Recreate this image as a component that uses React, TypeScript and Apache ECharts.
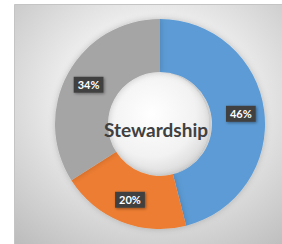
import React, { useEffect, useRef } from "react";
import * as echarts from "echarts";

const categories = ["Blue", "Orange", "Gray"];
const values = [46, 20, 34];
const colors = ["#5b9bd5", "#ed7d31", "#a5a5a5"];
const centerTitle = "Stewardship";

export default function App() {
  const ref = useRef<HTMLDivElement>(null);
  useEffect(() => {
    if (!ref.current) return;
    const chart = echarts.init(ref.current, undefined, { renderer: "svg" });
    chart.setOption({
      animation: false,
      graphic: [
        {
          type: "rect",
          z: -10,
          shape: { x: 14.5, y: 4.5, width: 280, height: 250 },
          style: {
            fill: new echarts.graphic.RadialGradient(0.5, 0.38, 0.75, [
              { offset: 0, color: "#fbfbfb" },
              { offset: 0.45, color: "#ececec" },
              { offset: 1, color: "#bdbdbd" },
            ]),
            stroke: "#c4c4c4",
            lineWidth: 1,
          },
        },
        {
          type: "circle",
          z: -5,
          shape: { cx: 157, cy: 124, r: 52 },
          style: {
            fill: new echarts.graphic.RadialGradient(0.45, 0.4, 0.6, [
              { offset: 0, color: "#ffffff" },
              { offset: 0.7, color: "#f2f2f2" },
              { offset: 1, color: "#dcdcdc" },
            ]),
            shadowBlur: 6,
            shadowColor: "rgba(0,0,0,0.25)",
          },
        },
        {
          type: "text",
          z: 10,
          x: 156,
          y: 129,
          style: {
            text: centerTitle,
            fill: "#404040",
            font: "bold 19px Lato, sans-serif",
            align: "center",
            verticalAlign: "middle",
          },
        },
      ],
      series: [
        {
          type: "pie",
          center: [160, 124],
          radius: [52, 105],
          startAngle: 90,
          clockwise: true,
          silent: true,
          itemStyle: {
            shadowBlur: 6,
            shadowColor: "rgba(0,0,0,0.2)",
          },
          label: {
            show: true,
            position: "inside",
            formatter: "{c}%",
            color: "#ffffff",
            fontWeight: "bold",
            fontSize: 11,
            fontFamily: "Lato, sans-serif",
            backgroundColor: "#404040",
            padding: [3, 4, 2, 4],
            shadowBlur: 3,
            shadowColor: "rgba(0,0,0,0.4)",
            shadowOffsetX: 1,
            shadowOffsetY: 1,
          },
          labelLine: { show: false },
          data: categories.map((name, i) => ({
            name,
            value: values[i],
            itemStyle: { color: colors[i] },
          })),
        },
      ],
    });
    return () => chart.dispose();
  }, []);
  return (
    <div
      ref={ref}
      style={{ position: "fixed", left: 0, top: 0, width: 282, height: 244, background: "#ffffff" }}
    />
  );
}
